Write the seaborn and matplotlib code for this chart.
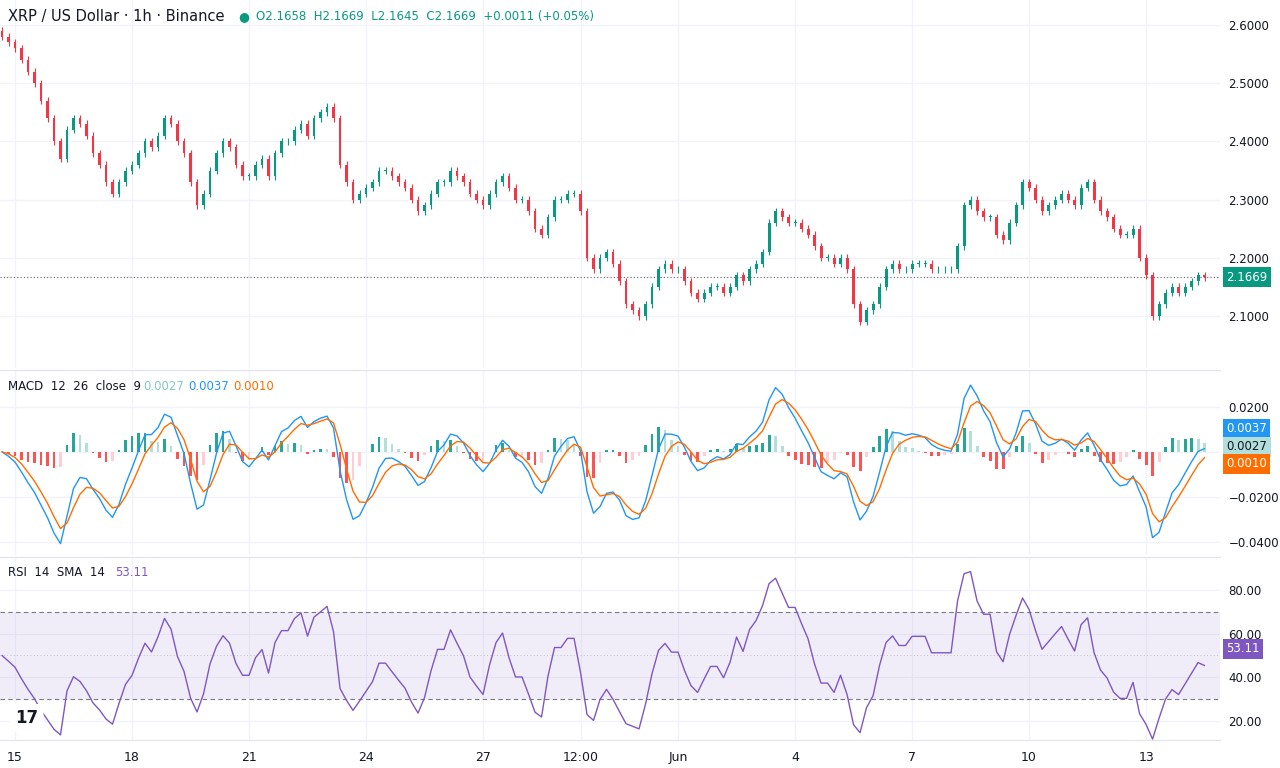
import matplotlib
matplotlib.use("Agg")
import matplotlib.pyplot as plt
import matplotlib.dates as mdates
import seaborn as sns
import numpy as np
import pandas as pd

# 4h closes (May 14 16:00 -> Jun 14 12:00)
closes = [
    2.58, 2.57,
    2.56, 2.54, 2.52, 2.50, 2.47, 2.44,
    2.40, 2.37, 2.42, 2.44, 2.43, 2.41,
    2.38, 2.36, 2.33, 2.31, 2.33, 2.35,
    2.36, 2.38, 2.40, 2.39, 2.41, 2.44,
    2.43, 2.40, 2.38, 2.33, 2.29, 2.31,
    2.35, 2.38, 2.40, 2.39, 2.36, 2.34,
    2.34, 2.36, 2.37, 2.34, 2.38, 2.40,
    2.40, 2.42, 2.43, 2.41, 2.44, 2.45,
    2.46, 2.44, 2.36, 2.33, 2.30, 2.31,
    2.32, 2.33, 2.35, 2.35, 2.34, 2.33,
    2.32, 2.30, 2.28, 2.29, 2.31, 2.33,
    2.33, 2.35, 2.34, 2.33, 2.31, 2.30,
    2.29, 2.31, 2.33, 2.34, 2.32, 2.30,
    2.30, 2.28, 2.25, 2.24, 2.27, 2.30,
    2.30, 2.31, 2.31, 2.28, 2.20, 2.18,
    2.20, 2.21, 2.19, 2.16, 2.12, 2.11,
    2.10, 2.12, 2.15, 2.18, 2.19, 2.18,
    2.18, 2.16, 2.14, 2.13, 2.14, 2.15,
    2.15, 2.14, 2.15, 2.17, 2.16, 2.18,
    2.19, 2.21, 2.26, 2.28, 2.27, 2.26,
    2.26, 2.25, 2.24, 2.22, 2.20, 2.20,
    2.19, 2.20, 2.18, 2.12, 2.09, 2.11,
    2.12, 2.15, 2.18, 2.19, 2.18, 2.18,
    2.19, 2.19, 2.19, 2.18, 2.18, 2.18,
    2.18, 2.22, 2.29, 2.30, 2.28, 2.27,
    2.27, 2.24, 2.23, 2.26, 2.29, 2.33,
    2.32, 2.30, 2.28, 2.29, 2.30, 2.31,
    2.30, 2.29, 2.32, 2.33, 2.30, 2.28,
    2.27, 2.25, 2.24, 2.24, 2.25, 2.20,
    2.17, 2.10, 2.12, 2.14, 2.15, 2.14,
    2.15, 2.16, 2.17, 2.1669,
]
price_ticks = [2.1, 2.2, 2.3, 2.4, 2.5, 2.6]
macd_ticks = [-0.04, -0.02, 0.0, 0.02]
rsi_ticks = [20, 40, 60, 80]
x_tick_dates = ["2025-05-15 00:00", "2025-05-18 00:00", "2025-05-21 00:00", "2025-05-24 00:00",
                "2025-05-27 00:00", "2025-05-29 12:00", "2025-06-01 00:00", "2025-06-04 00:00",
                "2025-06-07 00:00", "2025-06-10 00:00", "2025-06-13 00:00"]
x_tick_labels = ["15", "18", "21", "24", "27", "12:00", "Jun", "4", "7", "10", "13"]
# last values as printed on the chart
last_macd, last_signal, last_hist, last_rsi = 0.0037, 0.0010, 0.0027, 53.11

UP, DOWN = "#089981", "#F23645"
TXT = "#131722"
GRID = "#F0F3FA"

df = pd.DataFrame({"time": pd.date_range("2025-05-14 16:00", periods=len(closes), freq="4h"),
                   "close": closes})
df["open"] = df["close"].shift(1).fillna(df["close"].iloc[0] + 0.01)
df["x"] = mdates.date2num(df["time"])

# indicator settings scaled to the 4h bars
ema_fast = df["close"].ewm(span=3.5, adjust=False).mean()
ema_slow = df["close"].ewm(span=7, adjust=False).mean()
df["macd"] = ema_fast - ema_slow
df["signal"] = df["macd"].ewm(span=3.5, adjust=False).mean()
df["hist"] = df["macd"] - df["signal"]
delta = df["close"] - df["open"]
# seed both averages evenly, as if earlier history were balanced
g = delta.clip(lower=0).copy(); g.iloc[0] = 0.015
l = (-delta.clip(upper=0)).copy(); l.iloc[0] = 0.015
gain = g.ewm(alpha=1 / 7, adjust=False).mean()
loss = l.ewm(alpha=1 / 7, adjust=False).mean()
df["rsi"] = 100 - 100 / (1 + gain / loss.replace(0, 1e-9))

sns.set_style("white")
plt.rcParams["font.family"] = "DejaVu Sans"
fig = plt.figure(figsize=(12.8, 7.68), dpi=100)
W = 1220 / 1280
ax_p = fig.add_axes([0, 1 - 368 / 768, W, 368 / 768])
ax_m = fig.add_axes([0, 1 - 555 / 768, W, 185 / 768])
ax_r = fig.add_axes([0, 1 - 740 / 768, W, 183 / 768])

x0 = mdates.date2num(pd.Timestamp("2025-05-14 14:46"))
x1 = mdates.date2num(pd.Timestamp("2025-06-14 21:30"))
xt = mdates.date2num(pd.to_datetime(x_tick_dates))
for ax in (ax_p, ax_m, ax_r):
    ax.set_xlim(x0, x1)
    ax.yaxis.tick_right()
    ax.tick_params(axis="y", length=0, labelsize=8.5, colors=TXT, pad=6)
    ax.tick_params(axis="x", length=0)
    ax.set_xticks(xt)
    ax.grid(True, color=GRID, lw=1)
    for s in ax.spines.values():
        s.set_visible(False)
    ax.set_xticklabels([])
ax_m.spines["top"].set_visible(True); ax_m.spines["top"].set_color("#E0E3EB")
ax_r.spines["top"].set_visible(True); ax_r.spines["top"].set_color("#E0E3EB")
ax_r.spines["bottom"].set_visible(True); ax_r.spines["bottom"].set_color("#E0E3EB")
ax_r.set_xticklabels(x_tick_labels, fontsize=9, color=TXT)
ax_r.tick_params(axis="x", pad=8)

# candles
w = 4 / 24 * 0.45
colors = np.where(df["close"] >= df["open"], UP, DOWN)
body = (df["close"] - df["open"]).abs().clip(lower=0.0015)
ax_p.bar(df["x"], body, bottom=df[["open", "close"]].min(axis=1), width=w, color=colors, lw=0)
ax_p.vlines(df["x"], df[["open", "close"]].min(axis=1) - 0.006,
            df[["open", "close"]].max(axis=1) + 0.006, colors=colors, lw=0.8)
last = closes[-1]
ax_p.axhline(last, color="#5d606b", ls=(0, (1, 2)), lw=0.8)
ax_p.set_ylim(2.0107, 2.643)
ax_p.set_yticks(price_ticks)
ax_p.set_yticklabels([f"{v:.4f}" for v in price_ticks])
ax_p.text(1.005, last, f"{last:.4f}", transform=ax_p.get_yaxis_transform(), va="center",
          ha="left", fontsize=8.5, color="white",
          bbox=dict(boxstyle="square,pad=0.3", fc=UP, ec="none"))
fig.text(0.006, 0.978, "XRP / US Dollar · 1h · Binance", fontsize=10.5, color=TXT, va="center")
fig.text(0.186, 0.978, "●", fontsize=9, color=UP, va="center")
fig.text(0.2, 0.978, "O2.1658  H2.1669  L2.1645  C2.1669  +0.0011 (+0.05%)",
         fontsize=8.5, color=UP, va="center")

# MACD
hcol = []
prev = 0
for h in df["hist"]:
    if h >= 0:
        hcol.append("#26A69A" if h >= prev else "#B2DFDB")
    else:
        hcol.append("#FF5252" if h <= prev else "#FFCDD2")
    prev = h
ax_m.bar(df["x"], df["hist"], width=w, color=hcol, lw=0)
sns.lineplot(x=df["x"], y=df["macd"], ax=ax_m, color="#2196F3", lw=1)
sns.lineplot(x=df["x"], y=df["signal"], ax=ax_m, color="#FF6D00", lw=1)
ax_m.set_ylim(-0.0458, 0.0364)
ax_m.set_yticks(macd_ticks)
ax_m.set_yticklabels(["\u22120.0400", "\u22120.0200", "", "0.0200"])
ax_m.set_xlabel(""); ax_m.set_ylabel("")
for val, ypos, fc, tc in [(last_macd, 0.0102, "#2196F3", "white"),
                          (last_hist, 0.0022, "#B2DFDB", TXT),
                          (last_signal, -0.0053, "#FF6D00", "white")]:
    ax_m.text(1.005, ypos, f"{val:.4f}", transform=ax_m.get_yaxis_transform(), va="center",
              ha="left", fontsize=8.5, color=tc, bbox=dict(boxstyle="square,pad=0.3", fc=fc, ec="none"))
fig.text(0.006, 1 - 386 / 768, "MACD  12  26  close  9", fontsize=8.5, color=TXT, va="center")
fig.text(0.112, 1 - 386 / 768, f"{last_hist:.4f}", fontsize=8.5, color="#80CBC4", va="center")
fig.text(0.147, 1 - 386 / 768, f"{last_macd:.4f}", fontsize=8.5, color="#2196F3", va="center")
fig.text(0.182, 1 - 386 / 768, f"{last_signal:.4f}", fontsize=8.5, color="#FF6D00", va="center")

# RSI
ax_r.axhspan(30, 70, color="#7E57C2", alpha=0.1, lw=0)
ax_r.axhline(70, color="#787B86", ls=(0, (4, 3)), lw=0.8)
ax_r.axhline(30, color="#787B86", ls=(0, (4, 3)), lw=0.8)
ax_r.axhline(50, color="#787B86", ls=(0, (1, 3)), lw=0.6, alpha=0.5)
sns.lineplot(x=df["x"], y=df["rsi"], ax=ax_r, color="#7E57C2", lw=1)
ax_r.set_ylim(11.3, 95.1)
ax_r.set_yticks(rsi_ticks)
ax_r.set_yticklabels([f"{v:.2f}" for v in rsi_ticks])
ax_r.set_xlabel(""); ax_r.set_ylabel("")
ax_r.text(1.005, last_rsi, f"{last_rsi:.2f}", transform=ax_r.get_yaxis_transform(), va="center",
          ha="left", fontsize=8.5, color="white",
          bbox=dict(boxstyle="square,pad=0.3", fc="#7E57C2", ec="none"))
fig.text(0.006, 1 - 572 / 768, "RSI  14  SMA  14", fontsize=8.5, color=TXT, va="center")
fig.text(0.09, 1 - 572 / 768, f"{last_rsi:.2f}", fontsize=8.5, color="#7E57C2", va="center")
fig.text(0.012, 1 - 718 / 768, "17", fontsize=12, fontweight="bold", color=TXT, va="center",
         bbox=dict(boxstyle="round,pad=0.3", fc="white", ec="none"))

fig.savefig("out.png", dpi=100)
